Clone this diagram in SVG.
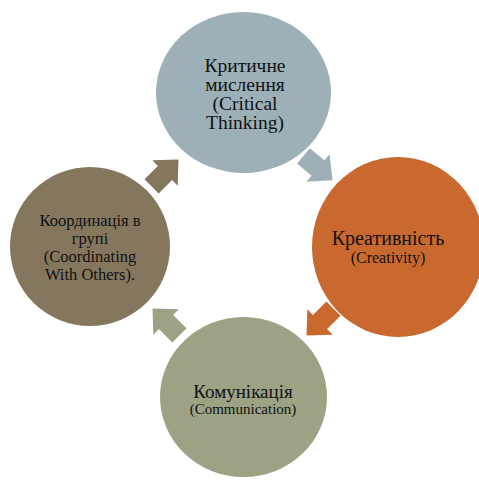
<svg xmlns="http://www.w3.org/2000/svg" width="479" height="481" viewBox="0 0 479 481">
<style>
text{font-family:"Liberation Serif","Times New Roman",serif;fill:#111;text-anchor:middle}
.blue{fill:#9DB0B7}.orange{fill:#C9692F}.green{fill:#9CA384}.brown{fill:#85775E}
</style>
<defs>
<path id="arr" d="M-19,-10 L0,-10 L0,-18 L19,0 L0,18 L0,10 L-19,10 Z"/>
</defs>
<rect width="479" height="481" fill="#fff"/>
<g id="connectors">
<use href="#arr" class="blue" transform="translate(318,168) rotate(40)"/>
<use href="#arr" class="orange" transform="translate(320,322) rotate(135)"/>
<use href="#arr" class="green" transform="translate(166,322) rotate(-135)"/>
<use href="#arr" class="brown" transform="translate(165,173) rotate(-45)"/>
</g>
<g id="critical">
<ellipse class="blue" cx="243.5" cy="92.5" rx="87.5" ry="80.5"/>
<text x="245" y="72" font-size="19.5">Критичне</text>
<text x="245" y="91" font-size="19.5">мислення</text>
<text x="245" y="110" font-size="19.5">(Critical</text>
<text x="245" y="129" font-size="19.5">Thinking)</text>
</g>
<g id="creativity">
<ellipse class="orange" cx="398" cy="247" rx="86" ry="90"/>
<text x="388" y="245" font-size="20">Креативність</text>
<text x="388" y="263" font-size="16">(Creativity)</text>
</g>
<g id="communication">
<ellipse class="green" cx="243.5" cy="397" rx="83.5" ry="80"/>
<text x="243" y="398" font-size="19">Комунікація</text>
<text x="243" y="414" font-size="15">(Communication)</text>
</g>
<g id="coordination">
<ellipse class="brown" cx="90" cy="246.5" rx="80" ry="79.5"/>
<text x="90" y="226" font-size="16.5">Координація в</text>
<text x="90" y="244" font-size="16.5">групі</text>
<text x="90" y="262" font-size="16.5">(Coordinating</text>
<text x="90" y="280" font-size="16.5">With Others).</text>
</g>
</svg>
